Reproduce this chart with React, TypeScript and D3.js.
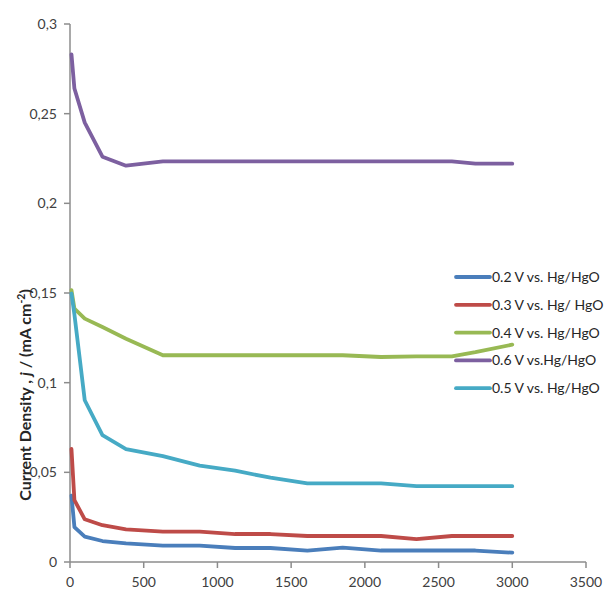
import React from "react";
import * as d3 from "d3";

const times = [10, 30, 100, 220, 380, 630, 880, 1120, 1360, 1610, 1850, 2110, 2350, 2590, 2750, 3000];
const v02 = [0.037, 0.0195, 0.0141, 0.0117, 0.0104, 0.0091, 0.0091, 0.0078, 0.0078, 0.0064, 0.008, 0.0064, 0.0064, 0.0064, 0.0064, 0.0052];
const v03 = [0.063, 0.0345, 0.0238, 0.0205, 0.0182, 0.0169, 0.0169, 0.0156, 0.0156, 0.0145, 0.0145, 0.0145, 0.0128, 0.0145, 0.0145, 0.0145];
const v04 = [0.1516, 0.1413, 0.1357, 0.131, 0.1245, 0.1153, 0.1153, 0.1153, 0.1153, 0.1153, 0.1153, 0.1143, 0.1147, 0.1147, 0.117, 0.1212];
const v06 = [0.283, 0.264, 0.245, 0.226, 0.221, 0.2234, 0.2234, 0.2234, 0.2234, 0.2234, 0.2234, 0.2234, 0.2234, 0.2234, 0.2221, 0.2221];
const v05 = [0.1497, 0.138, 0.0902, 0.0707, 0.063, 0.059, 0.0537, 0.0509, 0.047, 0.0438, 0.0438, 0.0438, 0.0423, 0.0423, 0.0423, 0.0423];

const seriesNames = ["0.2 V vs. Hg/HgO", "0.3 V vs. Hg/ HgO", "0.4 V vs. Hg/HgO", "0.6 V vs.Hg/HgO", "0.5 V vs. Hg/HgO"];
const seriesValues = [v02, v03, v04, v06, v05];
const seriesColors = ["#4A7EBB", "#BE4B48", "#98B954", "#7D60A0", "#46AAC5"];

const xTicks = [0, 500, 1000, 1500, 2000, 2500, 3000, 3500];
const yTicks = [0, 0.05, 0.1, 0.15, 0.2, 0.25, 0.3];
const yTickLabels = ["0", "0,05", "0,1", "0,15", "0,2", "0,25", "0,3"];

const W = 610;
const H = 589;

export default function App() {
  const x = d3.scaleLinear().domain([0, 3500]).range([70, 586]);
  const y = d3.scaleLinear().domain([0, 0.3]).range([562, 24]);
  const line = d3
    .line<number>()
    .x((_, i) => x(times[i]))
    .y((d) => y(d));
  const axisColor = "#8C8C8C";
  const font = "Lato, 'Open Sans', sans-serif";
  const legendX = 456;
  const legendY0 = 277;
  const legendStep = 27.8;

  return (
    <svg
      width={W}
      height={H}
      style={{ position: "absolute", left: 0, top: 0, background: "#fff" }}
      fontFamily={font}
    >
      <rect width={W} height={H} fill="#fff" />
      {/* axes */}
      <line x1={x(0)} x2={x(0)} y1={y(0.3)} y2={y(0)} stroke={axisColor} strokeWidth={1.5} />
      <line x1={x(0)} x2={x(3500)} y1={y(0)} y2={y(0)} stroke={axisColor} strokeWidth={1.5} />
      {yTicks.map((t, i) => (
        <g key={"yt" + i}>
          <line x1={x(0) - 6} x2={x(0)} y1={y(t)} y2={y(t)} stroke={axisColor} strokeWidth={1.5} />
          <text x={57} y={y(t)} dy="0.35em" textAnchor="end" fontSize={14} fill="#404040">
            {yTickLabels[i]}
          </text>
        </g>
      ))}
      {xTicks.map((t, i) => (
        <g key={"xt" + i}>
          <line x1={x(t)} x2={x(t)} y1={y(0)} y2={y(0) + 6} stroke={axisColor} strokeWidth={1.5} />
          <text x={x(t)} y={587} textAnchor="middle" fontSize={14} fill="#404040">
            {t}
          </text>
        </g>
      ))}
      {/* series */}
      {seriesValues.map((vals, i) => (
        <path
          key={"s" + i}
          d={line(vals) || ""}
          fill="none"
          stroke={seriesColors[i]}
          strokeWidth={3.8}
          strokeLinejoin="round"
          strokeLinecap="round"
        />
      ))}
      {/* legend */}
      {seriesNames.map((n, i) => (
        <g key={"l" + i}>
          <line
            x1={legendX}
            x2={legendX + 34}
            y1={legendY0 + i * legendStep}
            y2={legendY0 + i * legendStep}
            stroke={seriesColors[i]}
            strokeWidth={3.8}
            strokeLinecap="round"
          />
          <text x={legendX + 36} y={legendY0 + i * legendStep} dy="0.35em" fontSize={14} fill="#262626">
            {n}
          </text>
        </g>
      ))}
      {/* y title */}
      <text
        transform={`translate(31, 395) rotate(-90)`}
        textAnchor="middle"
        fontSize={16}
        fontWeight="bold"
        fill="#262626"
      >
        <tspan>Current Density , </tspan>
        <tspan fontStyle="italic">j</tspan>
        <tspan> / (mA cm</tspan>
        <tspan fontSize={10.5} dy={-6}>-2</tspan>
        <tspan dy={6}>)</tspan>
      </text>
    </svg>
  );
}
